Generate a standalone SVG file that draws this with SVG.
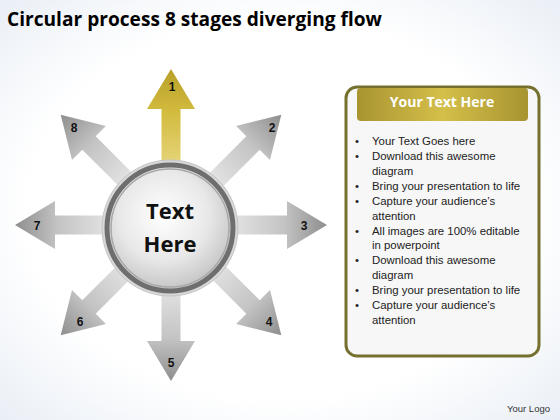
<svg xmlns="http://www.w3.org/2000/svg" width="560" height="420" viewBox="0 0 560 420">
<defs>
<radialGradient id="bg" cx="0.5" cy="0.5" r="0.75">
<stop offset="0.6" stop-color="#ffffff"/>
<stop offset="1" stop-color="#e6ecf4"/>
</radialGradient>
<linearGradient id="gray" gradientUnits="userSpaceOnUse" x1="0" y1="-60" x2="0" y2="-156">
<stop offset="0" stop-color="#e4e4e4"/>
<stop offset="0.55" stop-color="#c4c4c4"/>
<stop offset="1" stop-color="#8e8e8e"/>
</linearGradient>
<linearGradient id="gold" gradientUnits="userSpaceOnUse" x1="0" y1="-60" x2="0" y2="-156">
<stop offset="0" stop-color="#e6d57a"/>
<stop offset="0.55" stop-color="#d2bb3e"/>
<stop offset="1" stop-color="#b8a02a"/>
</linearGradient>
<radialGradient id="ball" cx="0.45" cy="0.4" r="0.65">
<stop offset="0" stop-color="#ffffff"/>
<stop offset="0.55" stop-color="#e8e8e8"/>
<stop offset="1" stop-color="#bdbdbd"/>
</radialGradient>
<linearGradient id="hdr" x1="0" y1="0" x2="1" y2="0">
<stop offset="0" stop-color="#a89430"/>
<stop offset="0.5" stop-color="#d4bf4a"/>
<stop offset="1" stop-color="#a89430"/>
</linearGradient>
<path id="arr" d="M-9.5,-55 L-9.5,-116 L-24,-116 L0,-156 L24,-116 L9.5,-116 L9.5,-55 Z"/>
</defs>
<style>
.num{font-family:"Liberation Sans",Arial,sans-serif;font-weight:bold;font-size:12px;fill:#111;text-anchor:middle}
.bul{font-family:"Liberation Sans",Arial,sans-serif;font-size:11.4px;fill:#222}
</style>
<rect width="560" height="420" fill="url(#bg)"/>
<text x="7" y="26" font-family="'Open Sans','Liberation Sans',sans-serif" font-weight="bold" font-size="19.5" fill="#000" textLength="375" lengthAdjust="spacingAndGlyphs">Circular process 8 stages diverging flow</text>

<g id="arrows" transform="translate(171,225)">
<g id="arrow2"><use href="#arr" fill="url(#gray)" transform="rotate(45)"/></g>
<g id="arrow3"><use href="#arr" fill="url(#gray)" transform="rotate(90)"/></g>
<g id="arrow4"><use href="#arr" fill="url(#gray)" transform="rotate(135)"/></g>
<g id="arrow5"><use href="#arr" fill="url(#gray)" transform="rotate(180)"/></g>
<g id="arrow6"><use href="#arr" fill="url(#gray)" transform="rotate(225)"/></g>
<g id="arrow7"><use href="#arr" fill="url(#gray)" transform="rotate(270)"/></g>
<g id="arrow8"><use href="#arr" fill="url(#gray)" transform="rotate(315)"/></g>
<g id="arrow1"><use href="#arr" fill="url(#gold)"/></g>
</g>
<g id="labels">
<text class="num" x="172" y="91">1</text>
<text class="num" x="272" y="132">2</text>
<text class="num" x="304" y="230">3</text>
<text class="num" x="269" y="326">4</text>
<text class="num" x="171" y="367">5</text>
<text class="num" x="80" y="326">6</text>
<text class="num" x="37" y="230">7</text>
<text class="num" x="74" y="132">8</text>
</g>

<g id="center">
<circle cx="170" cy="228" r="68" fill="#d8d8d8" stroke="#c4c4c4" stroke-width="1"/>
<circle cx="170" cy="228" r="63" fill="url(#ball)" stroke="#6e6e6e" stroke-width="5"/>
<circle cx="170" cy="228" r="59" fill="none" stroke="#a8a8a8" stroke-width="1.5"/>
<text x="170" y="219" font-family="'Open Sans','Liberation Sans',sans-serif" font-weight="bold" font-size="22" fill="#111" text-anchor="middle">Text</text>
<text x="170" y="252" font-family="'Open Sans','Liberation Sans',sans-serif" font-weight="bold" font-size="22" fill="#111" text-anchor="middle">Here</text>
</g>

<g id="panel">
<rect x="346" y="87" width="193" height="269" rx="11" fill="#f7f7f7" stroke="#76702e" stroke-width="3"/>
<rect x="357" y="88" width="171" height="33" rx="4" fill="url(#hdr)"/>
<text x="442" y="107" font-family="'Open Sans','Liberation Sans',sans-serif" font-weight="bold" font-size="14" fill="#ffffff" text-anchor="middle">Your Text Here</text>
<g class="bul">
<text x="355" y="145">•</text><text x="372" y="145">Your Text Goes here</text>
<text x="355" y="160">•</text><text x="372" y="160">Download this awesome</text>
<text x="372" y="175">diagram</text>
<text x="355" y="190">•</text><text x="372" y="190">Bring your presentation to life</text>
<text x="355" y="205">•</text><text x="372" y="205">Capture your audience’s</text>
<text x="372" y="220">attention</text>
<text x="355" y="235">•</text><text x="372" y="235">All images are 100% editable</text>
<text x="372" y="249">in powerpoint</text>
<text x="355" y="264">•</text><text x="372" y="264">Download this awesome</text>
<text x="372" y="279">diagram</text>
<text x="355" y="294">•</text><text x="372" y="294">Bring your presentation to life</text>
<text x="355" y="309">•</text><text x="372" y="309">Capture your audience’s</text>
<text x="372" y="324">attention</text>
</g>
</g>
<text x="550" y="412" font-family="'Liberation Sans',Arial,sans-serif" font-size="9.5" fill="#333" text-anchor="end">Your Logo</text>
</svg>
